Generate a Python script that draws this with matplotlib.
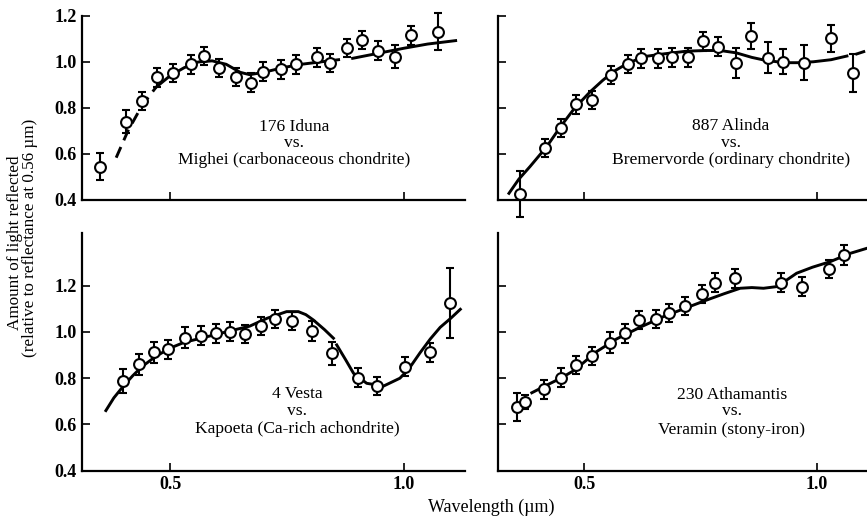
import matplotlib.pyplot as plt
import numpy as np

plt.rcParams['font.family'] = ['Liberation Serif', 'DejaVu Serif']

# 176 Iduna vs. Mighei
iduna_x = [0.350, 0.406, 0.440, 0.473, 0.506, 0.544, 0.573, 0.605, 0.641, 0.672, 0.699,
           0.737, 0.769, 0.813, 0.842, 0.878, 0.911, 0.944, 0.981, 1.015, 1.072]
iduna_y = [0.545, 0.740, 0.830, 0.933, 0.951, 0.990, 1.026, 0.975, 0.936, 0.910, 0.958,
           0.968, 0.990, 1.020, 0.995, 1.060, 1.096, 1.050, 1.023, 1.116, 1.132]
iduna_err = [0.06, 0.05, 0.04, 0.04, 0.04, 0.04, 0.04, 0.04, 0.04, 0.04, 0.04,
             0.04, 0.04, 0.04, 0.04, 0.04, 0.04, 0.04, 0.05, 0.04, 0.08]
iduna_curve_x = [0.385, 0.41, 0.44, 0.47, 0.50, 0.53, 0.56, 0.59, 0.62, 0.65, 0.67, 0.70,
                 0.74, 0.78, 0.82, 0.86, np.nan, 0.89, 0.95, 1.00, 1.05, 1.11]
iduna_curve_y = [0.584, 0.70, 0.81, 0.89, 0.94, 0.975, 1.00, 1.005, 0.99, 0.955, 0.945, 0.955,
                 0.975, 0.99, 1.00, 1.01, np.nan, 1.016, 1.04, 1.06, 1.078, 1.093]

# 887 Alinda vs. Bremervorde
alinda_x = [0.363, 0.416, 0.450, 0.482, 0.518, 0.558, 0.594, 0.622, 0.658, 0.689,
            0.722, 0.756, 0.788, 0.826, 0.858, 0.894, 0.926, 0.971, 1.030, 1.077]
alinda_y = [0.425, 0.627, 0.714, 0.816, 0.835, 0.943, 0.991, 1.016, 1.016, 1.020,
            1.020, 1.090, 1.067, 0.997, 1.113, 1.019, 1.001, 0.997, 1.103, 0.953]
alinda_err = [0.10, 0.04, 0.04, 0.04, 0.04, 0.04, 0.04, 0.04, 0.04, 0.04,
              0.04, 0.04, 0.04, 0.065, 0.057, 0.068, 0.054, 0.076, 0.06, 0.083]
alinda_curve_x = [0.339, 0.36, 0.384, 0.42, 0.45, 0.48, 0.513, 0.54, 0.563, 0.59, 0.627,
                  0.67, 0.72, 0.76, 0.792, 0.826, 0.86, 0.885, 0.928, 0.96, 0.992, 1.03,
                  1.064, np.nan, 1.085, 1.10]
alinda_curve_y = [0.429, 0.49, 0.545, 0.632, 0.72, 0.80, 0.87, 0.92, 0.958, 0.99, 1.023,
                  1.035, 1.047, 1.05, 1.05, 1.04, 1.02, 1.009, 0.997, 0.997, 1.001, 1.01,
                  1.026, np.nan, 1.035, 1.045]

# 4 Vesta vs. Kapoeta
vesta_x = [0.399, 0.434, 0.466, 0.496, 0.531, 0.566, 0.598, 0.628, 0.660, 0.694,
           0.724, 0.760, 0.803, 0.847, 0.901, 0.943, 1.001, 1.056, 1.098]
vesta_y = [0.788, 0.861, 0.912, 0.925, 0.975, 0.984, 0.994, 1.001, 0.991, 1.026,
           1.056, 1.047, 1.004, 0.908, 0.802, 0.766, 0.850, 0.912, 1.126]
vesta_err = [0.05, 0.045, 0.045, 0.04, 0.045, 0.04, 0.04, 0.04, 0.04, 0.04,
             0.04, 0.04, 0.045, 0.05, 0.04, 0.04, 0.04, 0.04, 0.15]
vesta_curve_x = [0.363, 0.38, 0.40, 0.42, 0.44, 0.47, 0.50, 0.53, 0.57, 0.60, 0.635, 0.67,
                 0.707, 0.749, 0.774, 0.79, 0.806, 0.83, 0.849, np.nan, 0.856, 0.875, 0.892,
                 0.92, 0.956, 0.991, 1.01, 1.034, 1.056, 1.077, 1.10, 1.12]
vesta_curve_y = [0.66, 0.715, 0.765, 0.81, 0.85, 0.895, 0.93, 0.955, 0.975, 0.99, 1.008, 1.025,
                 1.059, 1.088, 1.088, 1.075, 1.052, 1.01, 0.973, np.nan, 0.944, 0.88, 0.821,
                 0.778, 0.766, 0.80, 0.84, 0.91, 0.97, 1.02, 1.06, 1.098]

# 230 Athamantis vs. Veramin
atham_x = [0.357, 0.373, 0.415, 0.450, 0.482, 0.517, 0.556, 0.588, 0.618, 0.654,
           0.683, 0.717, 0.753, 0.781, 0.824, 0.922, 0.967, 1.026, 1.058]
atham_y = [0.674, 0.698, 0.752, 0.802, 0.857, 0.896, 0.953, 0.994, 1.052, 1.055,
           1.081, 1.112, 1.164, 1.213, 1.232, 1.213, 1.196, 1.272, 1.333]
atham_err = [0.06, 0.03, 0.04, 0.04, 0.04, 0.04, 0.045, 0.04, 0.04, 0.04,
             0.04, 0.04, 0.04, 0.04, 0.04, 0.04, 0.04, 0.04, 0.045]
atham_curve_x = [0.388, 0.42, 0.45, 0.48, 0.527, 0.57, 0.62, 0.67, 0.72, 0.763, 0.80, 0.835,
                 0.86, 0.885, 0.913, 0.935, 0.956, 0.99, 1.028, 1.071, 1.107]
atham_curve_y = [0.737, 0.77, 0.80, 0.835, 0.915, 0.97, 1.02, 1.066, 1.105, 1.138, 1.165, 1.189,
                 1.192, 1.189, 1.196, 1.225, 1.254, 1.28, 1.304, 1.34, 1.362]

W, H = 867, 517
fig = plt.figure(figsize=(W / 100, H / 100), dpi=100)


def px_box(x0, x1, ytop, ybot):
    return [x0 / W, 1 - ybot / H, (x1 - x0) / W, (ybot - ytop) / H]


panels = [
    # axes box, xlim, ylim, data, dashed head points, text, text center, text rows
    (px_box(82, 465, 16, 200), (0.312, 1.130), (0.4, 1.2),
     (iduna_x, iduna_y, iduna_err, iduna_curve_x, iduna_curve_y), 4,
     ['176 Iduna', 'vs.', 'Mighei (carbonaceous chondrite)'], 294, [127, 143, 160], True, False),
    (px_box(498, 867, 16, 200), (0.3155, 1.107), (0.4, 1.2),
     (alinda_x, alinda_y, alinda_err, alinda_curve_x, alinda_curve_y), 0,
     ['887 Alinda', 'vs.', 'Bremervorde (ordinary chondrite)'], 731, [126, 143, 160], False, False),
    (px_box(82, 465, 233, 470.7), (0.312, 1.130), (0.4, 1.428),
     (vesta_x, vesta_y, vesta_err, vesta_curve_x, vesta_curve_y), 0,
     ['4 Vesta', 'vs.', 'Kapoeta (Ca-rich achondrite)'], 297, [394, 411, 429], True, True),
    (px_box(498, 867, 233, 470.7), (0.3155, 1.107), (0.4, 1.428),
     (atham_x, atham_y, atham_err, atham_curve_x, atham_curve_y), 0,
     ['230 Athamantis', 'vs.', 'Veramin (stony-iron)'], 732, [395, 411, 430], False, True),
]

for box, xlim, ylim, data, ndash, lines, tx, tys, ylab, xlab in panels:
    ax = fig.add_axes(box)
    x, y, err, cx, cy = data
    cx = np.array(cx)
    cy = np.array(cy)
    if ndash:
        ax.plot(cx[:ndash], cy[:ndash], color='black', lw=2.1, ls=(0, (4, 2.5)),
                solid_capstyle='butt', clip_on=False)
        ax.plot(cx[ndash - 1:], cy[ndash - 1:], color='black', lw=2.1, clip_on=False)
    else:
        ax.plot(cx, cy, color='black', lw=2.1, clip_on=False)
    ax.errorbar(x, y, yerr=err, fmt='o', ms=7.8, mfc='white', mec='black', mew=1.5,
                ecolor='black', elinewidth=1.5, capsize=2.6, capthick=1.9,
                clip_on=False, zorder=3)

    ax.set_xlim(*xlim)
    ax.set_ylim(*ylim)
    for s in ['top', 'right']:
        ax.spines[s].set_visible(False)
    for s in ['left', 'bottom']:
        ax.spines[s].set_linewidth(1.6)
    ax.set_xticks([0.5, 1.0])
    ax.set_yticks([0.4, 0.6, 0.8, 1.0, 1.2])
    ax.tick_params(direction='in', length=6, width=1.2, labelsize=13, pad=4)
    if xlab:
        ax.set_xticklabels(['0.5', '1.0'], fontweight='bold')
    else:
        ax.set_xticklabels([])
    if ylab:
        ax.set_yticklabels(['0.4', '0.6', '0.8', '1.0', '1.2'], fontweight='bold')
    else:
        ax.set_yticklabels([])
    for line, ty in zip(lines, tys):
        fig.text(tx / W, 1 - ty / H, line, ha='center', va='center', fontsize=12.6)

fig.text(15 / W, 1 - 243 / H, 'Amount of light reflected', rotation=90,
         ha='center', va='center', fontsize=12.3)
fig.text(30 / W, 1 - 238 / H, '(relative to reflectance at 0.56 \u00b5m)', rotation=90,
         ha='center', va='center', fontsize=12.3)
fig.text(491 / W, 1 - 507 / H, 'Wavelength (\u00b5m)', ha='center', va='center', fontsize=13)

fig.savefig('out.png', dpi=100)
